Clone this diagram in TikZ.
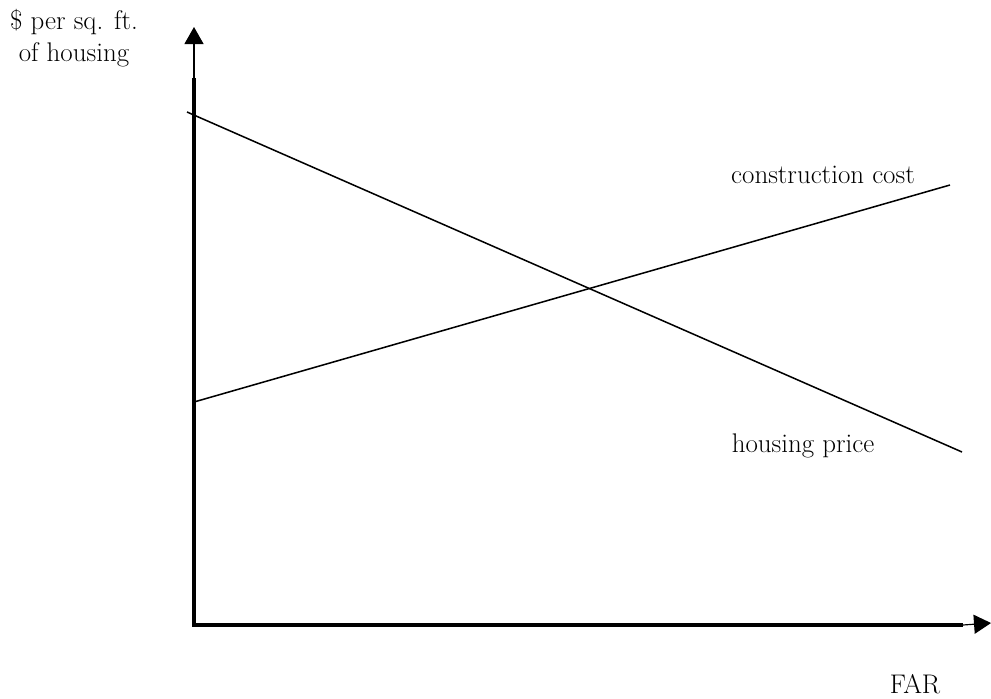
\documentclass[tikz,border=0pt]{standalone}
\usetikzlibrary{arrows.meta}

\begin{document}
\begin{tikzpicture}[x=0.03cm, y=-0.03cm,
    every node/.style={font=\fontsize{23}{27}\selectfont},
    axisline/.style={line width=3pt},
    tipline/.style={line width=1pt, -{Triangle[width=19*0.03cm, length=17*0.03cm]}},
    curve/.style={line width=1.3pt}]
    \useasboundingbox (0,0) rectangle (991,698);

    % Axes
    \coordinate (origin) at (194,625);
    \coordinate (ymid) at (194,78);
    \coordinate (ytip) at (194,27);
    \coordinate (xmid) at (963,625);
    \coordinate (xtip) at (991,623);
    \draw[axisline] (ymid) -- (origin) -- (xmid);
    \draw[tipline] (ymid) -- (ytip);
    \draw[tipline] (xmid) -- (xtip);

    % Lines
    \coordinate (price0) at (187,112);
    \coordinate (price1) at (962,452);
    \coordinate (cost0) at (194,402);
    \coordinate (cost1) at (950,185);
    \draw[curve] (price0) -- (price1);
    \draw[curve] (cost0) -- (cost1);

    % Labels
    \node[align=center] (ylabel) at (74,38) {\$ per sq. ft.\\ of housing};
    \node (costlabel) at (823,175) {construction cost};
    \node (pricelabel) at (803,446) {housing price};
    \node (xlabel) at (915,684) {FAR};
\end{tikzpicture}
\end{document}
